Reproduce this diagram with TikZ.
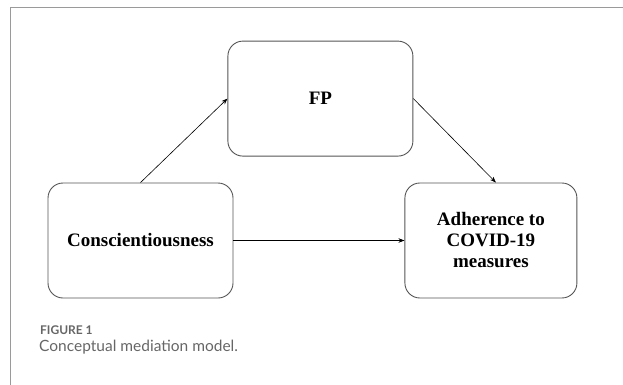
\documentclass[tikz,border=0pt]{standalone}
\usepackage{fontspec}
\setmainfont{Liberation Serif}
\newfontfamily\captionfont{Lato}
\usetikzlibrary{positioning, arrows.meta}
\definecolor{boxgray}{HTML}{555555}
\definecolor{framegray}{HTML}{9A9A9A}
\definecolor{captiongray}{HTML}{666666}
\tikzset{
varbox/.style={draw=boxgray, line width=0.9pt, rounded corners=15pt, align=center, inner sep=0pt, font=\fontsize{19}{21}\selectfont\bfseries},
>={Stealth[length=6pt,width=4.5pt]},
}

\begin{document}
\begin{tikzpicture}[x=1pt, y=-1pt]
\useasboundingbox (0,0) rectangle (623,385);
% Frame
\coordinate (f0) at (10,385);
\coordinate (f1) at (10,7);
\coordinate (f2) at (623,7);
\draw[framegray, line width=0.8pt] (f0) -- (f1) -- (f2);

% Nodes
\node (cons) [varbox, minimum width=185pt, minimum height=115pt] at (140.5,240.5) {Conscientiousness};
\node (fp) [varbox, above right=26pt and -6pt of cons, minimum width=185pt, minimum height=115pt] {FP};
\node (adh) [varbox, right=171pt of cons, minimum width=172pt, minimum height=115pt] {Adherence to\\ COVID-19\\ measures};

% Connectors
\begin{scope}[->, line width=0.6pt]
\draw [->] (cons.north) -- (fp.west);
\draw [->] (fp.east) -- ([xshift=5pt]adh.north);
\draw [->] (cons) -- (adh);
\end{scope}

% Caption
\node (fig) [anchor=base west, inner sep=0pt, text=captiongray, font=\captionfont\fontsize{12}{14}\selectfont\bfseries] at (40,334) {FIGURE 1};
\node (cap) [anchor=base west, inner sep=0pt, text=captiongray, font=\captionfont\fontsize{15.5}{18}\selectfont] at (39,351) {Conceptual mediation model.};
\end{tikzpicture}
\end{document}
